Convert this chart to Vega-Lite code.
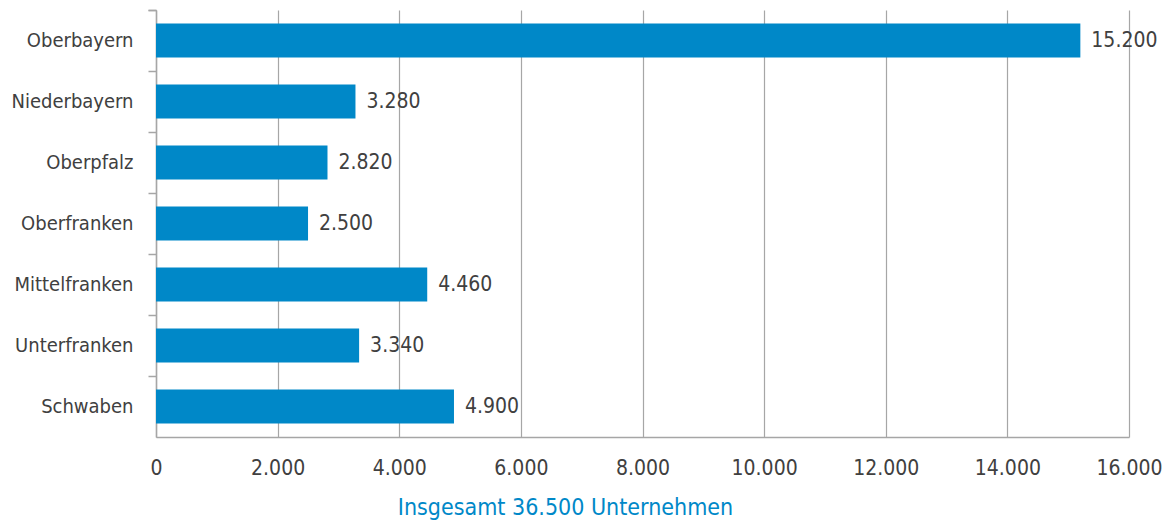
{
  "$schema": "https://vega.github.io/schema/vega-lite/v6.json",
  "width": 973,
  "height": 427,
  "autosize": "none",
  "padding": {"left": 156, "top": 10, "right": 41, "bottom": 87},
  "config": {
    "locale": {"number": {"decimal": ",", "thousands": ".", "grouping": [3], "currency": ["", " €"]}},
    "view": {"stroke": null},
    "font": "DejaVu Sans Condensed, Liberation Sans"
  },
  "data": {
    "values": [
      {"region": "Oberbayern", "value": 15200},
      {"region": "Niederbayern", "value": 3280},
      {"region": "Oberpfalz", "value": 2820},
      {"region": "Oberfranken", "value": 2500},
      {"region": "Mittelfranken", "value": 4460},
      {"region": "Unterfranken", "value": 3340},
      {"region": "Schwaben", "value": 4900}
    ]
  },
  "encoding": {
    "y": {
      "field": "region",
      "type": "nominal",
      "sort": null,
      "scale": {"paddingInner": 0.44, "paddingOuter": 0.22},
      "axis": {
        "title": null,
        "bandPosition": 0,
        "tickExtra": true,
        "tickOffset": -13.4,
        "labelOffset": 13.4,
        "domainColor": "#a6a6a6",
        "domainWidth": 1.5,
        "tickColor": "#a6a6a6",
        "tickWidth": 1.5,
        "tickSize": 8,
        "labelPadding": 15,
        "labelFontSize": 20,
        "labelColor": "#404040",
        "labelFont": "DejaVu Sans Condensed, Liberation Sans"
      }
    },
    "x": {
      "field": "value",
      "type": "quantitative",
      "scale": {"domain": [0, 16000], "nice": false},
      "axis": {
        "values": [0, 2000, 4000, 6000, 8000, 10000, 12000, 14000, 16000],
        "format": ",d",
        "grid": true,
        "gridColor": "#a6a6a6",
        "gridWidth": 1.2,
        "domainColor": "#a6a6a6",
        "domainWidth": 1.5,
        "ticks": false,
        "labelFlush": false,
        "labelPadding": 20,
        "labelFontSize": 21,
        "labelColor": "#404040",
        "labelFont": "DejaVu Sans Condensed, Liberation Sans",
        "title": "Insgesamt 36.500 Unternehmen",
        "titleFont": "DejaVu Sans Condensed, Liberation Sans",
        "titleFontSize": 23,
        "titleFontWeight": "normal",
        "titleColor": "#0088c8",
        "titleAnchor": "start",
        "titleAlign": "center",
        "titleX": 409,
        "titleY": 70,
        "titleBaseline": "middle"
      }
    }
  },
  "layer": [
    {"mark": {"type": "bar", "color": "#0088c8"}},
    {
      "mark": {"type": "text", "align": "left", "dx": 11, "fontSize": 21, "color": "#404040", "font": "DejaVu Sans Condensed, Liberation Sans"},
      "encoding": {"text": {"field": "value", "type": "quantitative", "format": ",d"}}
    }
  ]
}
